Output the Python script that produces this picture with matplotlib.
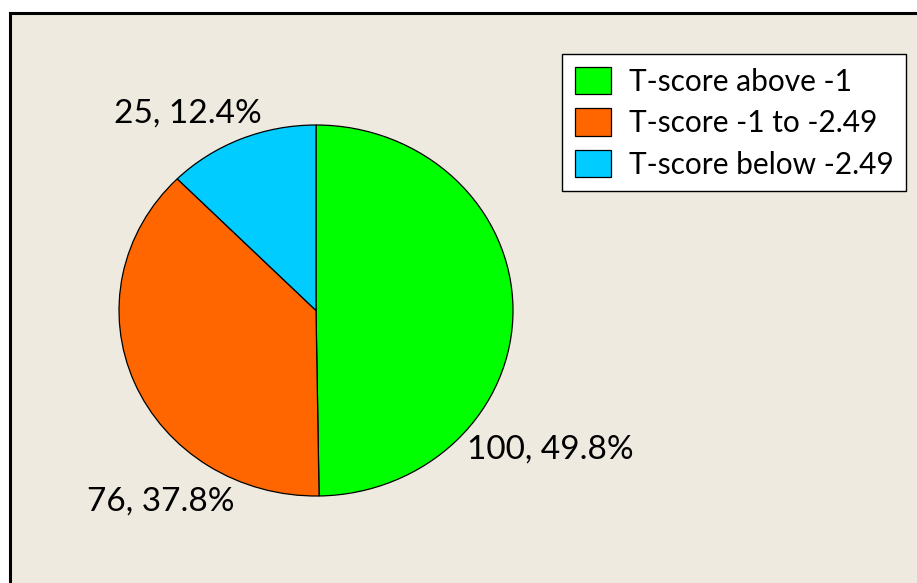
import matplotlib
matplotlib.use("Agg")
import matplotlib.pyplot as plt

# data
categories = ["T-score above -1", "T-score -1 to -2.49", "T-score below -2.49"]
counts = [100, 76, 25]
colors = ["#00FF00", "#FF6600", "#00CCFF"]

W, H = 917, 583
plt.rcParams['font.family'] = ['Lato', 'DejaVu Sans']

fig = plt.figure(figsize=(W / 100, H / 100), dpi=100, facecolor="white")

# beige panel with the black border on left/top
bg = fig.add_axes([9.5 / W, 0, 1 - 9.5 / W, (H - 12.5) / H])
bg.set_facecolor("#EEEAE0")
bg.set_xticks([])
bg.set_yticks([])
for side in ("right", "bottom"):
    bg.spines[side].set_visible(False)
for side in ("left", "top"):
    bg.spines[side].set_linewidth(2.2)
    bg.spines[side].set_color("black")

# pie axes, sized to the (slightly oval) pie in the reference
px_l, px_r, px_t, px_b = 119, 513, 125, 496
ax = fig.add_axes([px_l / W, (H - px_b) / H, (px_r - px_l) / W, (px_b - px_t) / H])
ax.patch.set_visible(False)
wedges, _ = ax.pie(counts, colors=colors, startangle=90, counterclock=False,
                   wedgeprops=dict(edgecolor="black", linewidth=0.9))
ax.set_aspect("auto")
ax.set_xlim(-1, 1)
ax.set_ylim(-1, 1)

total = sum(counts)
label_pos = [(1.19, -0.75), (-0.79, -1.03), (-0.65, 1.06)]
for c, (x, y) in zip(counts, label_pos):
    ax.text(x, y, f"{c}, {100 * c / total:.1f}%", fontsize=24,
            ha="center", va="center", color="black", clip_on=False)

leg = fig.legend(wedges, categories, loc="upper left",
                 bbox_to_anchor=(562 / W, 1 - 54 / H), fontsize=21.5,
                 frameon=True, fancybox=False, framealpha=1,
                 edgecolor="black", facecolor="white",
                 handlelength=1.22, handleheight=1.05, handletextpad=0.6,
                 labelspacing=0.42, borderpad=0.42, borderaxespad=0)
leg.get_frame().set_linewidth(1.0)

fig.savefig("out.png", dpi=100, facecolor="white")
